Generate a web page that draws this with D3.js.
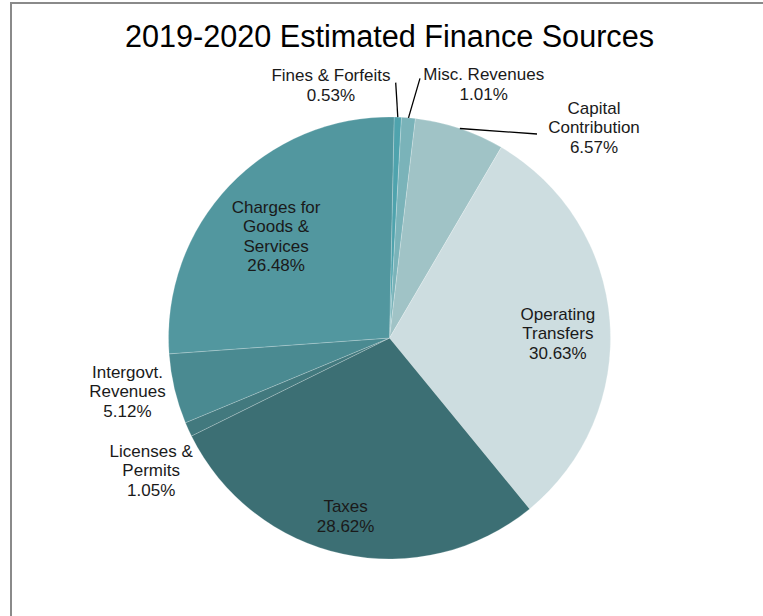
<!DOCTYPE html>
<html>
<head>
<meta charset="utf-8">
<script src="https://cdn.jsdelivr.net/npm/d3@7"></script>
<style>
  html, body { margin: 0; padding: 0; background: #ffffff; }
  svg { display: block; }
  text { font-family: "Liberation Sans", Arial, sans-serif; fill: #1a1a1a; }
</style>
</head>
<body>
<svg id="chart" width="763" height="616"></svg>
<script>
// Finance sources, in clockwise order starting at 12 o'clock
const categories = [
  "Fines & Forfeits",
  "Misc. Revenues",
  "Capital Contribution",
  "Operating Transfers",
  "Taxes",
  "Licenses & Permits",
  "Intergovt. Revenues",
  "Charges for Goods & Services"
];
const shares = [0.53, 1.01, 6.57, 30.63, 28.62, 1.05, 5.12, 26.48];

// How each label is broken into lines
const labelLines = [
  ["Fines & Forfeits"],
  ["Misc. Revenues"],
  ["Capital", "Contribution"],
  ["Operating", "Transfers"],
  ["Taxes"],
  ["Licenses &", "Permits"],
  ["Intergovt.", "Revenues"],
  ["Charges for", "Goods &", "Services"]
];

const sliceColors = ["#4fa3ad", "#7ab3b9", "#a0c3c6", "#cddde0",
                     "#3c6f74", "#42797e", "#4a8a91", "#52979f"];

// Label placement: radius as a fraction of the pie radius, angle offset (deg) from slice middle
const labelPlace = [
  { k: 1.174, dA: -15.2 },
  { k: 1.227, dA: 15.4 },
  { k: 1.328, dA: 25.6 },
  { k: 0.762, dA: 2.9 },
  { k: 0.829, dA: 1.7 },
  { k: 1.233, dA: -4.56 },
  { k: 1.21,  dA: 1.86 },
  { k: 0.69,  dA: -1.6 }
];
// Leader line end points for the small outer slices (same convention)
const leaderPlace = [
  { k: 1.156, dA: -0.76 },
  { k: 1.183, dA: 1.77 },
  { k: 1.139, dA: 17.3 },
  null, null, null, null, null
];

const title = "2019-2020 Estimated Finance Sources";

const svg = d3.select("#chart");
const W = 763, H = 616;
const cx = 389.5, cy = 338, R = 221;
const startOffset = 1.2 * Math.PI / 180;
const lineH = 19.6;

// Frame
svg.append("path")
  .attr("d", `M11,${H + 2} L11,3 L${W + 2},3`)
  .attr("fill", "none")
  .attr("stroke", "#8a8a8a")
  .attr("stroke-width", 2);

svg.append("text")
  .attr("x", cx)
  .attr("y", 47)
  .attr("text-anchor", "middle")
  .style("font-size", "30.6px")
  .style("fill", "#000")
  .text(title);

const data = categories.map((c, i) => ({ name: c, value: shares[i], i }));

const pie = d3.pie()
  .value(d => d.value)
  .sort(null)
  .startAngle(startOffset)
  .endAngle(startOffset + 2 * Math.PI);

const arcs = pie(data);
const arc = d3.arc().innerRadius(0).outerRadius(R);

const g = svg.append("g").attr("transform", `translate(${cx},${cy})`);

g.selectAll("path.slice")
  .data(arcs)
  .join("path")
  .attr("class", "slice")
  .attr("d", arc)
  .attr("fill", d => sliceColors[d.data.i])
  .attr("stroke", "#ffffff")
  .attr("stroke-opacity", 0.35)
  .attr("stroke-width", 0.6);

const polar = (ang, r) => [r * Math.sin(ang), -r * Math.cos(ang)];
const deg = Math.PI / 180;

// Leader lines
arcs.forEach(a => {
  const lp = leaderPlace[a.data.i];
  if (!lp) return;
  const mid = (a.startAngle + a.endAngle) / 2;
  const p0 = polar(mid, R);
  const p1 = polar(mid + lp.dA * deg, R * lp.k);
  g.append("line")
    .attr("x1", p0[0]).attr("y1", p0[1])
    .attr("x2", p1[0]).attr("y2", p1[1])
    .attr("stroke", "#000")
    .attr("stroke-width", 1.3);
});

// Labels: category lines plus percentage
arcs.forEach(a => {
  const i = a.data.i;
  const lp = labelPlace[i];
  const mid = (a.startAngle + a.endAngle) / 2;
  const p = polar(mid + lp.dA * deg, R * lp.k);
  const lines = labelLines[i].concat([d3.format(".2f")(a.data.value) + "%"]);
  const top = p[1] - (lines.length - 1) * lineH / 2 + 6;
  const t = g.append("text")
    .attr("text-anchor", "middle")
    .style("font-size", "17px");
  lines.forEach((ln, j) => {
    t.append("tspan")
      .attr("x", p[0])
      .attr("y", top + j * lineH)
      .text(ln);
  });
});
</script>
</body>
</html>
